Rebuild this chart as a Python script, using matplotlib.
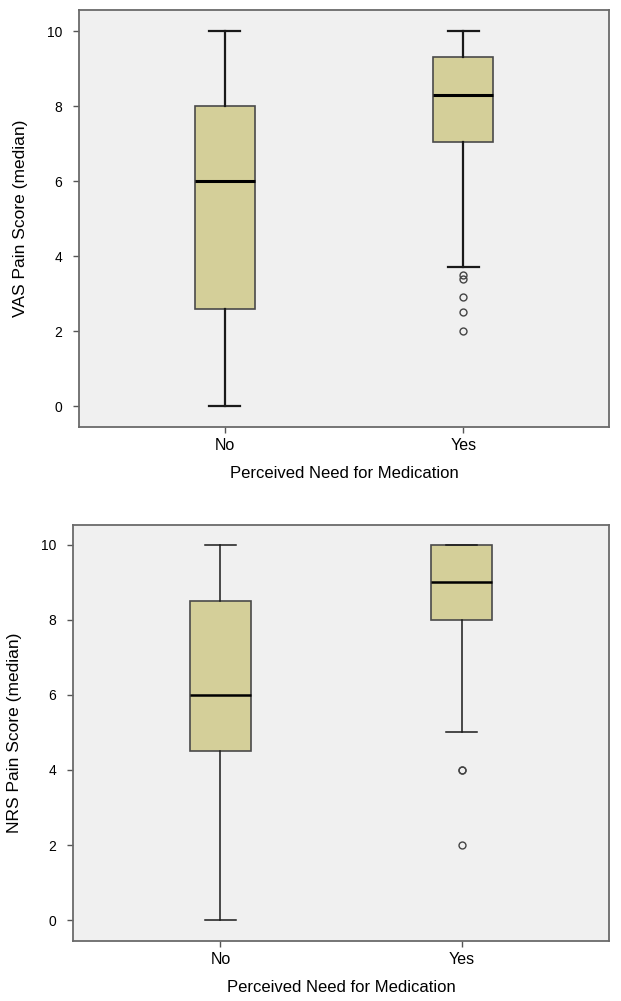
import matplotlib
matplotlib.use("Agg")
import matplotlib.pyplot as plt

# category labels
groups = ["No", "Yes"]

# VAS panel
vas_whislo = [0.0, 3.7]
vas_q1 = [2.6, 7.05]
vas_med = [6.0, 8.3]
vas_q3 = [8.0, 9.3]
vas_whishi = [10.0, 10.0]
vas_fliers = [[], [3.5, 3.4, 2.9, 2.5, 2.0]]

# NRS panel
nrs_whislo = [0.0, 5.0]
nrs_q1 = [4.5, 8.0]
nrs_med = [6.0, 9.0]
nrs_q3 = [8.5, 10.0]
nrs_whishi = [10.0, 10.0]
nrs_fliers = [[], [4.0, 4.0, 2.0]]

plt.rcParams['font.family'] = ['Liberation Sans', 'DejaVu Sans']

BOX_FILL = "#d4cf99"
BG = "#f0f0f0"


def make_stats(lo, q1, med, q3, hi, fl):
    stats = []
    for i, g in enumerate(groups):
        stats.append({"label": g, "whislo": lo[i], "q1": q1[i], "med": med[i],
                      "q3": q3[i], "whishi": hi[i], "fliers": fl[i]})
    return stats


def draw_panel(ax, stats, ylabel, ylim, lw_whisk, lw_med):
    ax.set_facecolor(BG)
    ax.bxp(stats, positions=[1, 2], widths=0.25, patch_artist=True,
           capwidths=0.13,
           boxprops=dict(facecolor=BOX_FILL, edgecolor="#4a4a4a", linewidth=1.2),
           whiskerprops=dict(color="#1a1a1a", linewidth=lw_whisk),
           capprops=dict(color="#1a1a1a", linewidth=lw_whisk),
           medianprops=dict(color="black", linewidth=lw_med),
           flierprops=dict(marker="o", markersize=5, markerfacecolor="none",
                           markeredgecolor="#444444", markeredgewidth=1.0))
    ax.set_xlim(0.389, 2.611)
    ax.set_ylim(*ylim)
    ax.set_yticks([0, 2, 4, 6, 8, 10])
    ax.set_xticks([1, 2])
    ax.set_xticklabels(groups, fontsize=11.5)
    ax.tick_params(axis="y", labelsize=10, length=4, width=1, color="#555555", pad=8)
    ax.tick_params(axis="x", length=4, width=1, color="#555555", pad=4)
    for s in ax.spines.values():
        s.set_color("#6a6a6a")
        s.set_linewidth(1.3)
    ax.set_ylabel(ylabel, fontsize=12.5, labelpad=14)
    ax.set_xlabel("Perceived Need for Medication", fontsize=12, labelpad=9)


fig = plt.figure(figsize=(6.21, 10.01), dpi=100)
fig.patch.set_facecolor("white")

ax1 = fig.add_axes([0.1272, 0.5734, 0.8535, 0.4166])
draw_panel(ax1, make_stats(vas_whislo, vas_q1, vas_med, vas_q3, vas_whishi, vas_fliers),
           "VAS Pain Score (median)", (-0.56, 10.56), 1.6, 2.2)

ax2 = fig.add_axes([0.1176, 0.0599, 0.8631, 0.4156])
draw_panel(ax2, make_stats(nrs_whislo, nrs_q1, nrs_med, nrs_q3, nrs_whishi, nrs_fliers),
           "NRS Pain Score (median)", (-0.56, 10.53), 1.1, 1.8)

fig.savefig("out.png", dpi=100)
